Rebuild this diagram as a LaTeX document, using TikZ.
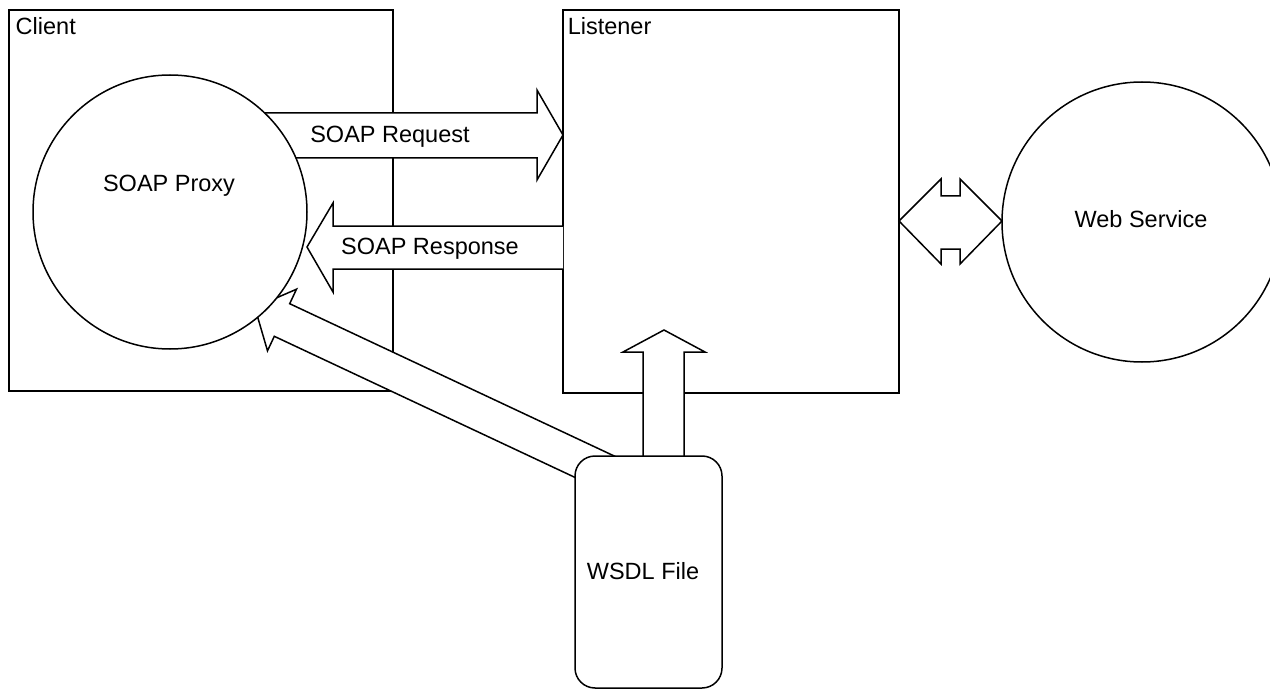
\documentclass[tikz,border=0pt]{standalone}
\usepackage{fontspec}
\setmainfont{Liberation Sans}
\begin{document}
\begin{tikzpicture}[x=1pt,y=-1pt,
  line width=1.5pt, line join=miter,
  box/.style={draw, inner sep=0pt, outer sep=0pt, anchor=north west},
  blob/.style={draw, fill=white, circle, inner sep=0pt, outer sep=0pt},
  blockarrow/.style={draw, fill=white},
  lbl/.style={inner sep=0pt, font=\fontsize{23.5}{26}\selectfont}]
\clip (0,0) rectangle (1270,690);
\fill[white] (0,0) rectangle (1270,690);
% containers
\node[box, minimum width=384pt, minimum height=381pt] (client) at (9,10) {};
\node[box, minimum width=336pt, minimum height=383pt] (listener) at (563,10) {};
\node[lbl, anchor=base west] (clientlbl) at (15,35) {Client};
\node[lbl, anchor=base west] (listenerlbl) at (567,35) {Listener};
% SOAP Request
\draw[blockarrow] (250,113) -- (537,113) -- (537,90) -- (563,135) -- (537,180) -- (537,158) -- (250,158) -- cycle;
% SOAP Response
\draw[blockarrow] (563,226) -- (333,226) -- (333,203) -- (307,247) -- (333,292) -- (333,269) -- (563,269);
% double arrow listener <-> web service
\draw[blockarrow] (899,221) -- (941,179) -- (941,196) -- (960,196) -- (960,179) -- (1002,221)
  -- (960,264) -- (960,249) -- (941,249) -- (941,264) -- cycle;
% WSDL -> Listener
\draw[blockarrow] (643,470) -- (643,352) -- (623,352) -- (664,330) -- (705,352) -- (684,352) -- (684,470) -- cycle;
% WSDL -> SOAP Proxy
\draw[blockarrow] (615.7,456.7) -- (289.7,303.7) -- (296.5,289.2) -- (254.8,307.3) -- (267.5,350.8)
  -- (274.3,336.3) -- (600.3,489.3) -- cycle;
% circles
\node[blob, minimum size=274pt] (proxy) at (170,212) {};
\node[blob, minimum size=280pt] (ws) at (1142,222) {};
\node[draw, fill=white, rounded corners=20pt, minimum width=147pt, minimum height=232pt,
  inner sep=0pt, outer sep=0pt, anchor=north west] (wsdl) at (575,456) {};
% labels
\node[lbl, anchor=base] (proxylbl) at (169,192) {SOAP Proxy};
\node[lbl, anchor=base] (reqlbl) at (390,143) {SOAP Request};
\node[lbl, anchor=base] (reslbl) at (430,254) {SOAP Response};
\node[lbl, anchor=base] (wslbl) at (1141,227) {Web Service};
\node[lbl, anchor=base] (wsdllbl) at (643,579) {WSDL File};
\end{tikzpicture}
\end{document}
